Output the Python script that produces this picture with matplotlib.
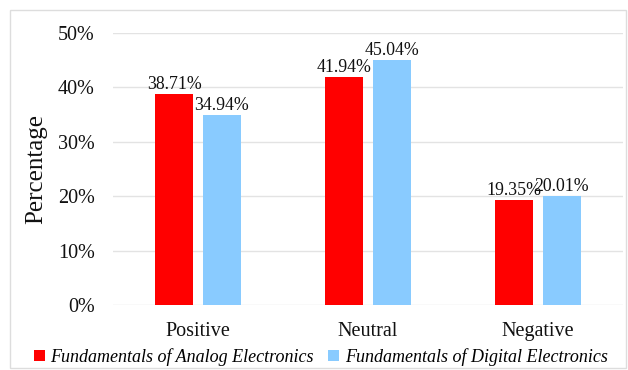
import matplotlib
matplotlib.use("Agg")
import matplotlib.pyplot as plt
import numpy as np
from matplotlib.patches import Rectangle

categories = ["Positive", "Neutral", "Negative"]
analog = [38.71, 41.94, 19.35]
digital = [34.94, 45.04, 20.01]
series_names = ["Fundamentals of Analog Electronics", "Fundamentals of Digital Electronics"]
yticks = [0, 10, 20, 30, 40, 50]

plt.rcParams['font.family'] = ['Liberation Serif', 'DejaVu Serif']

fig = plt.figure(figsize=(6.28, 3.70), dpi=100)
ax = fig.add_axes([113/628, 1-305/370, 510/628, 272/370])

x = np.arange(len(categories))
w = 0.224
off = 0.141
b1 = ax.bar(x - off, analog, w, color='#FF0000', label=series_names[0], zorder=3)
b2 = ax.bar(x + off, digital, w, color='#89CBFF', label=series_names[1], zorder=3)

for rects, vals in ((b1, analog), (b2, digital)):
    for r, v in zip(rects, vals):
        ax.text(r.get_x() + r.get_width()/2, v + 0.2, f"{v:.2f}%", ha='center', va='bottom',
                fontsize=12.8, color='#111111')

ax.set_xlim(-0.5, 2.5)
ax.set_ylim(0, 50)
ax.set_yticks(yticks)
ax.set_yticklabels([f"{t}%" for t in yticks], fontsize=14.5, color='#111111')
ax.set_xticks(x)
ax.set_xticklabels(categories, fontsize=14.5, color='#111111')
ax.tick_params(axis='y', length=0, pad=13)
ax.tick_params(axis='x', length=0, pad=12)
ax.grid(axis='y', color='#e3e3e3', linewidth=1, zorder=0)
for s in ax.spines.values():
    s.set_visible(False)
ax.set_ylabel("Percentage", fontsize=18, labelpad=8, color='#111111')

leg = fig.legend(handles=[b1, b2], labels=series_names, loc='center', bbox_to_anchor=(0.511, 1-357/370),
                 ncol=2, frameon=False, prop={'style': 'italic', 'size': 13},
                 handlelength=0.6, handleheight=0.6, handletextpad=0.3, columnspacing=0.8)

fig.patches.append(Rectangle((10/628, 2/370), 616/628, 358/370, transform=fig.transFigure,
                             fill=False, edgecolor='#dddddd', linewidth=1))

fig.savefig("out.png", dpi=100)
